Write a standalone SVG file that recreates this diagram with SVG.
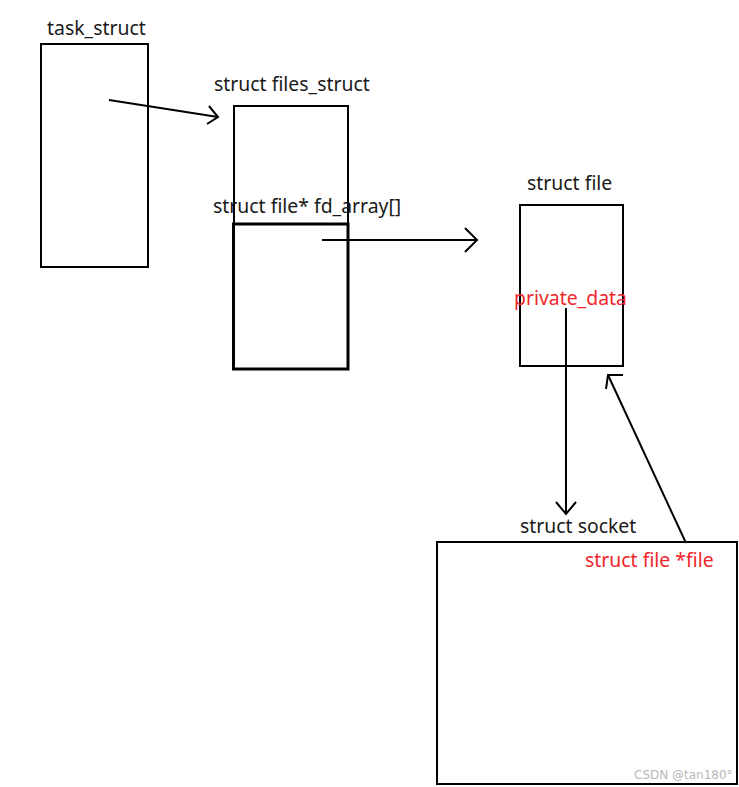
<svg xmlns="http://www.w3.org/2000/svg" width="739" height="787" viewBox="0 0 739 787">
<style>
.box{fill:none;stroke:#000;stroke-width:2}
.thick{fill:none;stroke:#000;stroke-width:3}
.lbl{font-family:"Noto Sans","Open Sans",sans-serif;font-size:19.4px;fill:#1a1a1a}
.red{font-family:"Noto Sans","Open Sans",sans-serif;font-size:19.4px;fill:#f0262c}
.ln{fill:none;stroke:#000;stroke-width:2}
.wm{font-family:"DejaVu Sans",sans-serif;font-size:12px;fill:#b8b8b8}
</style>
<rect width="739" height="787" fill="#fff"/>
<g id="task_struct">
<rect class="box" x="41" y="44" width="107" height="223"/>
<text class="lbl" x="47" y="35">task_struct</text>
</g>
<g id="files_struct">
<rect class="box" x="234" y="106" width="114" height="263"/>
<rect class="thick" x="233.5" y="224" width="114.5" height="145"/>
<text class="lbl" x="214" y="91">struct files_struct</text>
<text class="lbl" x="213" y="213">struct file* fd_array[]</text>
</g>
<g id="struct_file">
<rect class="box" x="520" y="205" width="103" height="161"/>
<text class="lbl" x="527" y="190">struct file</text>
<text class="red" x="514" y="305">private_data</text>
</g>
<g id="struct_socket">
<rect class="box" x="437" y="542" width="300" height="242"/>
<text class="lbl" x="520" y="533">struct socket</text>
<text class="red" x="585" y="567">struct file *file</text>
</g>
<g id="connectors">
<path class="ln" d="M109,100 L218,117"/>
<path class="ln" d="M209,106 L218,117 L207,124"/>
<path class="ln" d="M322,240 L477,240"/>
<path class="ln" d="M465,228 L477,240 L465,252"/>
<path class="ln" d="M566,308 L566,514"/>
<path class="ln" d="M556,502 L566,514 L576,502"/>
<path class="ln" d="M686,543 L608,375"/>
<path class="ln" d="M606,389 L608,375 L623,375"/>
</g>
<text class="wm" x="634" y="779">CSDN @tan180°</text>
</svg>
